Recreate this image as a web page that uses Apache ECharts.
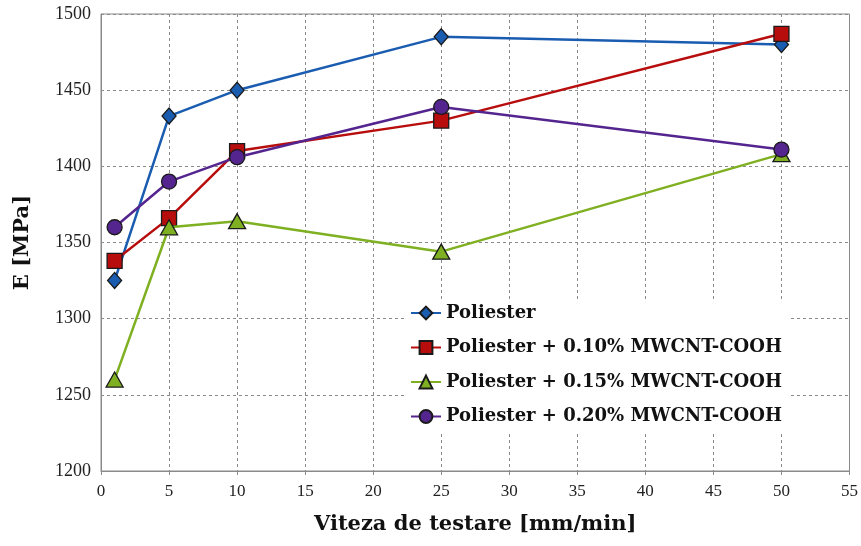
<!DOCTYPE html>
<html>
<head>
<meta charset="utf-8">
<script src="https://cdn.jsdelivr.net/npm/echarts@6/dist/echarts.min.js"></script>
<style>html,body{margin:0;padding:0;background:#fff}#c{width:861px;height:546px}</style>
</head>
<body>
<div id="c"></div>
<script>
const speeds = [1, 5, 10, 25, 50];
const poliester = [1325, 1433, 1450, 1485, 1480];
const p010 = [1338, 1366, 1410, 1430, 1487];
const p015 = [1260, 1360, 1364, 1344, 1408];
const p020 = [1360, 1390, 1406, 1439, 1411];
const seriesNames = ['Poliester', 'Poliester + 0.10% MWCNT-COOH', 'Poliester + 0.15% MWCNT-COOH', 'Poliester + 0.20% MWCNT-COOH'];
const xTicks = [0, 55, 5];
const yTicks = [1200, 1500, 50];

const chart = echarts.init(document.getElementById('c'));
const pair = arr => speeds.map((s, i) => [s, arr[i]]);
const styles = [
  {color: '#1a5cb0', symbol: 'diamond', size: [14, 16]},
  {color: '#b80d0d', symbol: 'rect', size: 15},
  {color: '#7fb022', symbol: 'triangle', size: [17, 15]},
  {color: '#55258f', symbol: 'circle', size: 15}
];
const datasets = [poliester, p010, p015, p020];
const serif = '"Liberation Serif", "DejaVu Serif", serif';
const dserif = '"DejaVu Serif", serif';
chart.setOption({
  animation: false,
  grid: {left: 101, right: 10, top: 14, bottom: 75, show: true, borderColor: '#8a8a8a', borderWidth: 1},
  legend: {
    orient: 'vertical', left: 404, top: 300,
    backgroundColor: '#fff', padding: [4, 8, 8, 6],
    itemWidth: 30, itemHeight: 16, itemGap: 16.5,
    textStyle: {fontFamily: dserif, fontWeight: 'bold', fontSize: 18, color: '#111'},
    data: seriesNames
  },
  xAxis: {
    type: 'value', min: xTicks[0], max: xTicks[1], interval: xTicks[2],
    name: 'Viteza de testare [mm/min]', nameLocation: 'middle', nameGap: 43,
    nameTextStyle: {fontFamily: dserif, fontWeight: 'bold', fontSize: 21, color: '#111'},
    axisLine: {lineStyle: {color: '#8a8a8a'}},
    axisTick: {show: true, length: 4, inside: false, lineStyle: {color: '#8a8a8a'}},
    axisLabel: {fontFamily: serif, fontSize: 17, color: '#222', margin: 12},
    splitLine: {show: true, lineStyle: {color: '#8a8a8a', type: [3, 3], width: 1}}
  },
  yAxis: {
    type: 'value', min: yTicks[0], max: yTicks[1], interval: yTicks[2],
    name: 'E [MPa]', nameLocation: 'middle', nameGap: 68, nameRotate: 90,
    nameTextStyle: {fontFamily: dserif, fontWeight: 'bold', fontSize: 21, color: '#111'},
    axisLine: {show: true, lineStyle: {color: '#8a8a8a'}},
    axisTick: {show: false},
    axisLabel: {fontFamily: serif, fontSize: 18, color: '#222', margin: 10, formatter: v => String(v)},
    splitLine: {show: true, lineStyle: {color: '#8a8a8a', type: [3, 3], width: 1}}
  },
  series: datasets.map((d, i) => ({
    name: seriesNames[i], type: 'line', data: pair(d),
    symbol: styles[i].symbol, symbolSize: styles[i].size,
    lineStyle: {color: styles[i].color, width: 2.5},
    itemStyle: {color: styles[i].color, borderColor: '#1a1a1a', borderWidth: 1.3},
    z: 2 + i
  }))
});
</script>
</body>
</html>
